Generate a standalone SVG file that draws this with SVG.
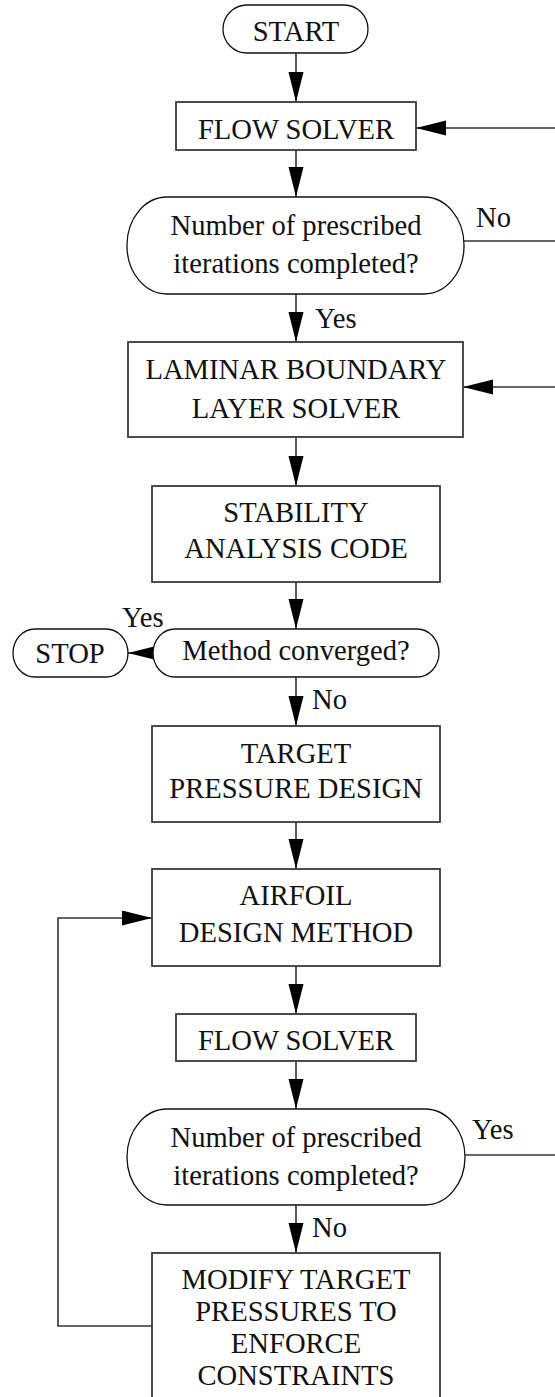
<svg xmlns="http://www.w3.org/2000/svg" width="555" height="1397" viewBox="0 0 555 1397">
  <style>
    .box { fill: #fff; stroke: #3a3a3a; stroke-width: 1.8; }
    .term { fill: #fff; stroke: #111; stroke-width: 1.3; }
    .wire { fill: none; stroke: #333; stroke-width: 1.6; }
    text { font-family: "Liberation Serif", "Times New Roman", serif; font-size: 28.6px; fill: #111; }
    .c { text-anchor: middle; }
  </style>
  <defs>
    <marker id="arrow" markerUnits="userSpaceOnUse" markerWidth="31" markerHeight="16" refX="30" refY="7.5" orient="auto">
      <path d="M0,0 L30,7.5 L0,15 z" fill="#000"/>
    </marker>
  </defs>

  <rect width="555" height="1397" fill="#fff"/>

  <!-- connectors -->
  <g id="connectors">
    <line class="wire" x1="296" y1="53" x2="296" y2="102" marker-end="url(#arrow)"/>
    <line class="wire" x1="296" y1="150" x2="296" y2="197" marker-end="url(#arrow)"/>
    <line class="wire" x1="296" y1="294" x2="296" y2="342" marker-end="url(#arrow)"/>
    <line class="wire" x1="296" y1="437" x2="296" y2="486" marker-end="url(#arrow)"/>
    <line class="wire" x1="296" y1="582" x2="296" y2="629" marker-end="url(#arrow)"/>
    <line class="wire" x1="296" y1="677" x2="296" y2="726" marker-end="url(#arrow)"/>
    <line class="wire" x1="296" y1="822" x2="296" y2="869" marker-end="url(#arrow)"/>
    <line class="wire" x1="296" y1="966" x2="296" y2="1014" marker-end="url(#arrow)"/>
    <line class="wire" x1="296" y1="1061" x2="296" y2="1109" marker-end="url(#arrow)"/>
    <line class="wire" x1="296" y1="1205" x2="296" y2="1253" marker-end="url(#arrow)"/>

    <!-- return paths from the right margin -->
    <line class="wire" x1="555" y1="128" x2="416" y2="128" marker-end="url(#arrow)"/>
    <line class="wire" x1="464" y1="241" x2="555" y2="241"/>
    <line class="wire" x1="555" y1="387" x2="463" y2="387" marker-end="url(#arrow)"/>
    <line class="wire" x1="465" y1="1155" x2="555" y2="1155"/>

    <!-- converged exit -->
    <line class="wire" x1="153" y1="653" x2="128" y2="653" marker-end="url(#arrow)"/>

    <!-- inner design loop -->
    <polyline class="wire" points="152,1326 58,1326 58,918 152,918" marker-end="url(#arrow)"/>
  </g>

  <!-- nodes -->
  <g id="start">
    <rect class="term" x="223" y="5" width="145" height="48" rx="24" ry="24"/>
    <text class="c" x="296" y="41">START</text>
  </g>

  <g id="flow-solver-1">
    <rect class="box" x="176" y="102" width="240" height="48"/>
    <text class="c" x="296" y="139">FLOW SOLVER</text>
  </g>

  <g id="iterations-check-1">
    <rect class="term" x="127" y="197" width="337" height="97" rx="40" ry="48"/>
    <text class="c" x="296" y="235">Number of prescribed</text>
    <text class="c" x="296" y="273">iterations completed?</text>
  </g>

  <g id="laminar-bl-solver">
    <rect class="box" x="128" y="342" width="335" height="95"/>
    <text class="c" x="296" y="379">LAMINAR BOUNDARY</text>
    <text class="c" x="296" y="418">LAYER SOLVER</text>
  </g>

  <g id="stability-analysis">
    <rect class="box" x="152" y="486" width="288" height="96"/>
    <text class="c" x="296" y="522">STABILITY</text>
    <text class="c" x="296" y="558">ANALYSIS CODE</text>
  </g>

  <g id="converged-check">
    <rect class="term" x="153" y="629" width="286" height="48" rx="22" ry="24"/>
    <text class="c" x="296" y="660">Method converged?</text>
  </g>

  <g id="stop">
    <rect class="term" x="13" y="629" width="115" height="48" rx="22" ry="24"/>
    <text class="c" x="70" y="663">STOP</text>
  </g>

  <g id="target-pressure-design">
    <rect class="box" x="152" y="726" width="288" height="96"/>
    <text class="c" x="296" y="763">TARGET</text>
    <text class="c" x="296" y="798">PRESSURE DESIGN</text>
  </g>

  <g id="airfoil-design-method">
    <rect class="box" x="152" y="869" width="288" height="97"/>
    <text class="c" x="296" y="905">AIRFOIL</text>
    <text class="c" x="296" y="942">DESIGN METHOD</text>
  </g>

  <g id="flow-solver-2">
    <rect class="box" x="176" y="1014" width="240" height="47"/>
    <text class="c" x="296" y="1050">FLOW SOLVER</text>
  </g>

  <g id="iterations-check-2">
    <rect class="term" x="127" y="1109" width="338" height="96" rx="40" ry="48"/>
    <text class="c" x="296" y="1147">Number of prescribed</text>
    <text class="c" x="296" y="1185">iterations completed?</text>
  </g>

  <g id="modify-target-pressures">
    <rect class="box" x="152" y="1253" width="288" height="160"/>
    <text class="c" x="296" y="1289">MODIFY TARGET</text>
    <text class="c" x="296" y="1321">PRESSURES TO</text>
    <text class="c" x="296" y="1353">ENFORCE</text>
    <text class="c" x="296" y="1385">CONSTRAINTS</text>
  </g>

  <!-- branch labels -->
  <g id="labels">
    <text x="476" y="227">No</text>
    <text x="315" y="328">Yes</text>
    <text x="122" y="627">Yes</text>
    <text x="312" y="709">No</text>
    <text x="472" y="1139">Yes</text>
    <text x="312" y="1237">No</text>
  </g>
</svg>
